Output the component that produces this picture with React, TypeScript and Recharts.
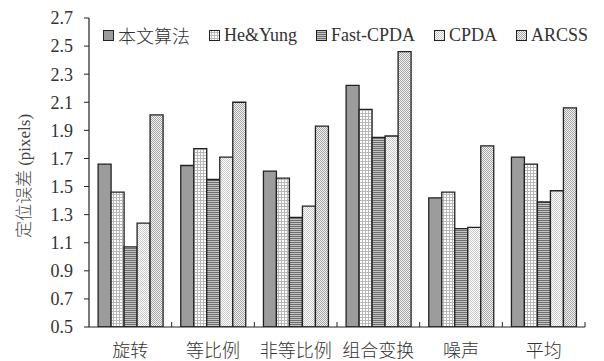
import React from "react";
import { BarChart, Bar, XAxis, YAxis } from "recharts";

const categories = ["旋转", "等比例", "非等比例", "组合变换", "噪声", "平均"];
const benwen = [1.66, 1.65, 1.61, 2.22, 1.42, 1.71];
const heYung = [1.46, 1.77, 1.56, 2.05, 1.46, 1.66];
const fastCpda = [1.07, 1.55, 1.28, 1.85, 1.2, 1.39];
const cpda = [1.24, 1.71, 1.36, 1.86, 1.21, 1.47];
const arcss = [2.01, 2.1, 1.93, 2.46, 1.79, 2.06];
const yTicks = [0.5, 0.7, 0.9, 1.1, 1.3, 1.5, 1.7, 1.9, 2.1, 2.3, 2.5, 2.7];

const seriesNames = ["本文算法", "He&Yung", "Fast-CPDA", "CPDA", "ARCSS"];
const seriesKeys = ["benwen", "heYung", "fastCpda", "cpda", "arcss"];
const fills = ["#9c9c9c", "url(#pHe)", "url(#pFast)", "url(#pCpda)", "url(#pArcss)"];

const data = categories.map((name, i) => ({
  name,
  benwen: benwen[i],
  heYung: heYung[i],
  fastCpda: fastCpda[i],
  cpda: cpda[i],
  arcss: arcss[i],
}));

const W = 604;
const H = 361;
const margin = { top: 18, right: 19, bottom: 4, left: 0 };
const yAxisWidth = 89;
const plotW = W - margin.left - margin.right - yAxisWidth;
const band = plotW / categories.length;
const font = "'Liberation Serif', 'Times New Roman', 'Noto Sans CJK SC', serif";
const ink = "#222";
const textInk = "#333";

function CategoryTick(props: any) {
  const { x, y, payload } = props;
  return (
    <g>
      <line x1={x + band / 2} x2={x + band / 2} y1={y} y2={y - 5} stroke={ink} strokeWidth={1} />
      <text
        x={x}
        y={y + 24}
        textAnchor="middle"
        dominantBaseline="central"
        fontSize={18}
        fontWeight={300}
        fill={textInk}
        fontFamily={font}
      >
        {payload.value}
      </text>
    </g>
  );
}

function Legend() {
  return (
    <div
      style={{
        position: "absolute",
        left: 103,
        top: 22,
        display: "flex",
        alignItems: "center",
        gap: 19,
        fontFamily: font,
        fontSize: 18,
        fontWeight: 300,
        color: textInk,
        whiteSpace: "nowrap",
      }}
    >
      {seriesNames.map((n, i) => (
        <div key={n} style={{ display: "flex", alignItems: "center", gap: 4 }}>
          <svg width={11} height={11}>
            <rect x={0.5} y={0.5} width={10} height={10} fill={fills[i]} stroke={ink} strokeWidth={1} />
          </svg>
          <span>{n}</span>
        </div>
      ))}
    </div>
  );
}

export default function App() {
  return (
    <div style={{ position: "absolute", left: 0, top: 0, width: W, height: H, background: "#fff" }}>
      <BarChart width={W} height={H} data={data} margin={margin} barCategoryGap="11%" barGap={0}>
        <defs>
          <pattern id="pHe" width={3} height={3} patternUnits="userSpaceOnUse">
            <rect width={3} height={3} fill="#fff" />
            <rect x={2} width={1} height={3} fill="#b8b8b8" />
            <rect y={2} width={3} height={1} fill="#b8b8b8" />
          </pattern>
          <pattern id="pFast" width={2} height={2} patternUnits="userSpaceOnUse">
            <rect width={2} height={2} fill="#c4c4c4" />
            <rect width={2} height={1} fill="#6e6e6e" />
          </pattern>
          <pattern id="pCpda" width={2} height={2} patternUnits="userSpaceOnUse">
            <rect width={2} height={2} fill="#fff" />
            <rect width={1} height={1} fill="#c8c8c8" />
            <rect x={1} y={1} width={1} height={1} fill="#c8c8c8" />
          </pattern>
          <pattern id="pArcss" width={2} height={2} patternUnits="userSpaceOnUse">
            <rect width={2} height={2} fill="#f2f2f2" />
            <rect width={1} height={1} fill="#a6a6a6" />
            <rect x={1} y={1} width={1} height={1} fill="#a6a6a6" />
          </pattern>
        </defs>
        <XAxis
          dataKey="name"
          axisLine={{ stroke: ink, strokeWidth: 1.2 }}
          tickLine={false}
          tickSize={0}
          tickMargin={0}
          tick={<CategoryTick />}
          interval={0}
          height={30}
        />
        <YAxis
          domain={[0.5, 2.7]}
          ticks={yTicks}
          width={yAxisWidth}
          axisLine={{ stroke: ink, strokeWidth: 1.2 }}
          tickLine={{ stroke: ink }}
          tickSize={5}
          tickMargin={11}
          tickFormatter={(v: number) => v.toFixed(1)}
          tick={{ fill: textInk, fontSize: 18, fontFamily: font }}
          allowDataOverflow
          label={{
            content: () => (
              <text
                x={24}
                y={176}
                transform="rotate(-90, 24, 176)"
                textAnchor="middle"
                dominantBaseline="central"
                fontSize={17}
                fontWeight={300}
                fill="#444"
                fontFamily={font}
              >
                定位误差 (pixels)
              </text>
            ),
          }}
        />
        {seriesKeys.map((k, i) => (
          <Bar key={k} dataKey={k} name={seriesNames[i]} fill={fills[i]} stroke={ink} strokeWidth={1.3} isAnimationActive={false} />
        ))}
      </BarChart>
      <Legend />
    </div>
  );
}
